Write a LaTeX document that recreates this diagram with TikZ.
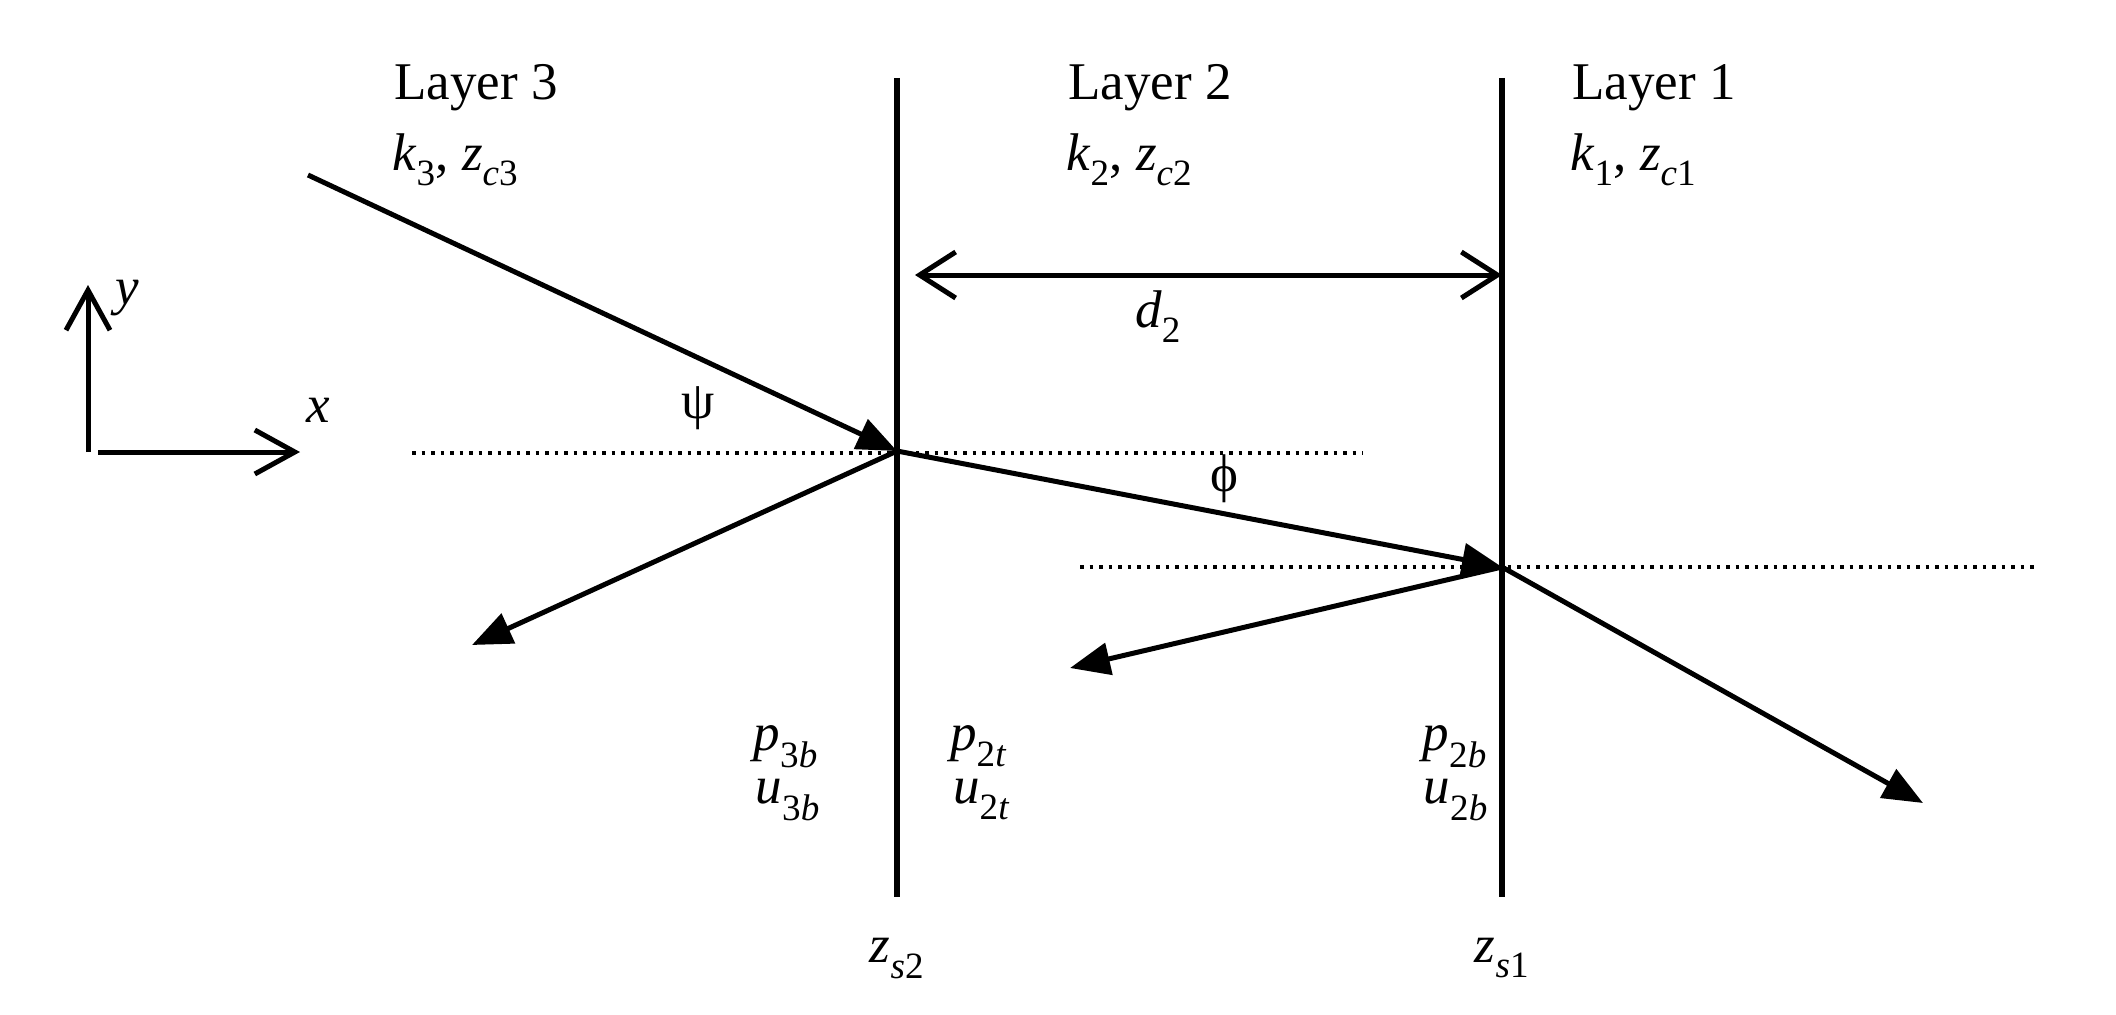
\documentclass[tikz,border=0pt]{standalone}
\usepackage{fontspec}
\setmainfont{Liberation Serif}
\usetikzlibrary{arrows.meta}
\newcommand{\isub}[2]{\textit{#1}\textsubscript{#2}}
\begin{document}
\begin{tikzpicture}[x=1pt,y=-1pt,
  lbl/.style={inner sep=0pt, font=\fontsize{53}{62}\selectfont},
  wall/.style={line width=5.5pt},
  ray/.style={line width=5pt, -{Triangle[length=40pt,width=32pt]}},
  barb/.style={line width=5pt, {Straight Barb[length=36pt,width=46pt,line width=5pt]}-{Straight Barb[length=36pt,width=46pt,line width=5pt]}},
  axarrow/.style={line width=5pt, -{Straight Barb[length=40pt,width=44pt,line width=5pt]}},
  dots/.style={line width=3.5pt, dash pattern=on 3.5pt off 6pt}]
\useasboundingbox (0,0) rectangle (2116,1014);
\fill[white] (0,0) rectangle (2116,1014);
% interface points
\coordinate (P1) at (897,451);
\coordinate (P2) at (1502,567);
\coordinate (W1t) at (897,78);
\coordinate (W1b) at (897,897);
\coordinate (W2t) at (1502,78);
\coordinate (W2b) at (1502,897);
\coordinate (Src) at (308,175);
\coordinate (R1) at (472,645);
\coordinate (R2) at (1070,668);
\coordinate (T1) at (1923,803);
\coordinate (D1) at (915,275);
\coordinate (D2) at (1502,275);
\coordinate (Dt1a) at (412,453);
\coordinate (Dt1b) at (1363,453);
\coordinate (Dt2a) at (1080,567);
\coordinate (Dt2b) at (2038,567);
\coordinate (O) at (88,452);
\coordinate (Ox) at (98,452);
\coordinate (Y) at (88,285);
\coordinate (X) at (300,452);
% walls
\draw[wall] (W1t) -- (W1b);
\draw[wall] (W2t) -- (W2b);
% dotted normals
\draw[dots] (Dt1a) -- (Dt1b);
\draw[dots] (Dt2a) -- (Dt2b);
% rays
\draw[ray] (Src) -- (P1);
\draw[ray] (P1) -- (R1);
\draw[ray] (P1) -- (P2);
\draw[ray] (P2) -- (R2);
\draw[ray] (P2) -- (T1);
% thickness arrow
\draw[barb] (D1) -- (D2);
% axes
\draw[axarrow] (O) -- (Y);
\draw[axarrow] (Ox) -- (X);
% labels
\node[lbl, anchor=base west] (l3) at (394,100) {Layer 3};
\node[lbl, anchor=base west] (k3) at (392,170) {\isub{k}{3}, \isub{z}{\textit{c}3}};
\node[lbl, anchor=base west] (l2) at (1068,100) {Layer 2};
\node[lbl, anchor=base west] (k2) at (1066,170) {\isub{k}{2}, \isub{z}{\textit{c}2}};
\node[lbl, anchor=base west] (l1) at (1572,100) {Layer 1};
\node[lbl, anchor=base west] (k1) at (1570,170) {\isub{k}{1}, \isub{z}{\textit{c}1}};
\node[lbl, anchor=base west] (d2) at (1135,327) {\isub{d}{2}};
\node[lbl] (psi) at (698,408) {ψ};
\node[lbl] (phi) at (1224,479) {ϕ};
\node[lbl, anchor=base east] (p3b) at (818,750) {\isub{p}{3\textit{b}}};
\node[lbl, anchor=base east] (u3b) at (820,803) {\isub{u}{3\textit{b}}};
\node[lbl, anchor=base east] (p2t) at (1007,750) {\isub{p}{2\textit{t}}};
\node[lbl, anchor=base east] (u2t) at (1010,803) {\isub{u}{2\textit{t}}};
\node[lbl, anchor=base east] (p2b) at (1487,750) {\isub{p}{2\textit{b}}};
\node[lbl, anchor=base east] (u2b) at (1488,803) {\isub{u}{2\textit{b}}};
\node[lbl, anchor=base] (zs2) at (897,962) {\isub{z}{\textit{s}2}};
\node[lbl, anchor=base] (zs1) at (1502,962) {\isub{z}{\textit{s}1}};
\node[lbl] (ylab) at (127,298) {\textit{y}};
\node[lbl] (xlab) at (318,410) {\textit{x}};
\end{tikzpicture}
\end{document}
